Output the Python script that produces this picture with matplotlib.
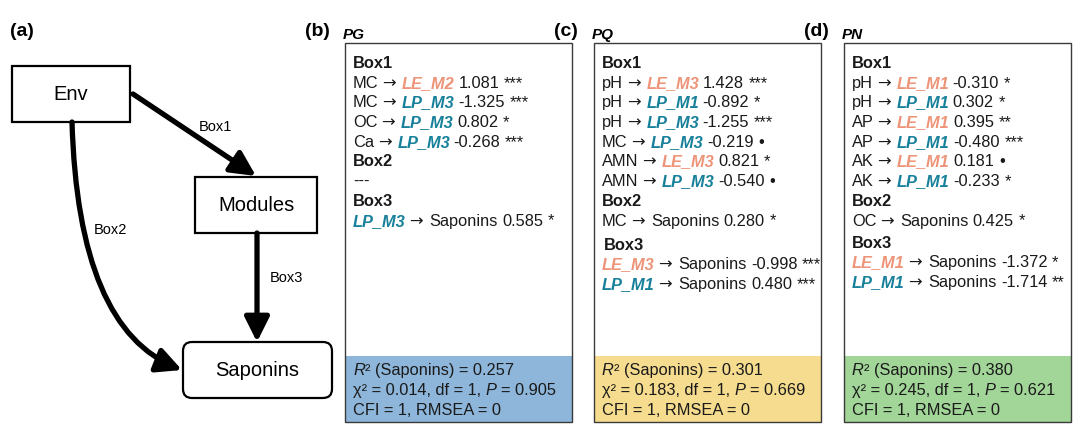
import matplotlib
matplotlib.use("Agg")
import matplotlib.pyplot as plt
from matplotlib.patches import Rectangle, FancyBboxPatch, FancyArrowPatch, ArrowStyle
from matplotlib.path import Path

plt.rcParams['font.family'] = ['Liberation Sans', 'DejaVu Sans']

# ---- data -------------------------------------------------------------
PANELS = ["PG", "PQ", "PN"]
PANEL_TAGS = ["(b)", "(c)", "(d)"]

# Box1: env factor -> module, coefficient, significance
BOX1 = [
    [("MC", "LE_M2", 1.081, "***"), ("MC", "LP_M3", -1.325, "***"),
     ("OC", "LP_M3", 0.802, "*"), ("Ca", "LP_M3", -0.268, "***")],
    [("pH", "LE_M3", 1.428, "***"), ("pH", "LP_M1", -0.892, "*"),
     ("pH", "LP_M3", -1.255, "***"), ("MC", "LP_M3", -0.219, "•"),
     ("AMN", "LE_M3", 0.821, "*"), ("AMN", "LP_M3", -0.540, "•")],
    [("pH", "LE_M1", -0.310, "*"), ("pH", "LP_M1", 0.302, "*"),
     ("AP", "LE_M1", 0.395, "**"), ("AP", "LP_M1", -0.480, "***"),
     ("AK", "LE_M1", 0.181, "•"), ("AK", "LP_M1", -0.233, "*")],
]
# Box2: env factor -> Saponins
BOX2 = [
    [],
    [("MC", 0.280, "*")],
    [("OC", 0.425, "*")],
]
# Box3: module -> Saponins
BOX3 = [
    [("LP_M3", 0.585, "*")],
    [("LE_M3", -0.998, "***"), ("LP_M1", 0.480, "***")],
    [("LE_M1", -1.372, "*"), ("LP_M1", -1.714, "**")],
]
R2 = [0.257, 0.301, 0.380]
CHI2 = [0.014, 0.183, 0.245]
PVAL = [0.905, 0.669, 0.621]
DF = [1, 1, 1]
CFI = [1, 1, 1]
RMSEA = [0, 0, 0]

LE_COLOR = "#EE9478"
LP_COLOR = "#17809A"
FILLS = ["#8DB6DA", "#F6DC8E", "#A2D598"]

# ---- figure -----------------------------------------------------------
fig = plt.figure(figsize=(10.8, 4.31), dpi=100)
ax = fig.add_axes([0, 0, 1, 1])
ax.set_xlim(0, 1080)
ax.set_ylim(431, 0)
ax.axis("off")
renderer = fig.canvas.get_renderer()

FS = 11.8
SPACE = 0.278 * FS * 100 / 72

STYLES = {
    "n": dict(),
    "b": dict(fontweight="bold"),
    "it": dict(fontstyle="italic"),
    "sup": dict(),
    "arr": dict(family="DejaVu Sans", fontsize=FS * 1.0),
    "le": dict(color=LE_COLOR, fontweight="bold", fontstyle="italic"),
    "lp": dict(color=LP_COLOR, fontweight="bold", fontstyle="italic"),
}
# gap (in spaces) inserted after a segment of the given style
GAP_AFTER = {"arr": 1.3, "le": 0.8, "lp": 0.8}


def draw_line(x, y, segs):
    prev = None
    for text, st in segs:
        if prev is not None and st != "sup":
            g = GAP_AFTER.get(prev, 1.0)
            if st == "arr":
                g = 0.8
            x += SPACE * g
        prev = st
        kw = dict(color="#1a1a1a", fontsize=FS)
        kw.update(STYLES[st])
        t = ax.text(x, y, text, ha="left", va="baseline", **kw)
        x += t.get_window_extent(renderer).width


def mod_style(m):
    return "le" if m.startswith("LE") else "lp"


# ---- panel (a): path diagram ------------------------------------------
ax.text(10, 32, "(a)", fontsize=14, fontweight="bold", va="center")
box_kw = dict(fill=False, lw=1.6, ec="black")
ax.add_patch(Rectangle((12, 67), 118, 56, **box_kw))
ax.add_patch(Rectangle((195, 178), 122, 56, **box_kw))
ax.add_patch(FancyBboxPatch((183, 343), 149, 56,
                            boxstyle="round,pad=0,rounding_size=9", **box_kw))
ax.text(71, 95, "Env", fontsize=14.5, ha="center", va="center")
ax.text(256, 206, "Modules", fontsize=14.5, ha="center", va="center")
ax.text(257.5, 371, "Saponins", fontsize=14.5, ha="center", va="center")

head = ArrowStyle("-|>", head_length=15, head_width=7.5)
arr_kw = dict(arrowstyle=head, mutation_scale=1, lw=3.8, color="black",
              shrinkA=0, shrinkB=0)
ax.add_patch(FancyArrowPatch((133, 95), (256, 177), **arr_kw))
ax.add_patch(FancyArrowPatch((257, 234), (257, 343), **arr_kw))
curve = Path([(72, 123), (78, 330), (182, 371)],
             [Path.MOVETO, Path.CURVE3, Path.CURVE3])
ax.add_patch(FancyArrowPatch(path=curve, **arr_kw))
ax.text(215, 127, "Box1", fontsize=10.5, ha="center", va="center")
ax.text(110, 230, "Box2", fontsize=10.5, ha="center", va="center")
ax.text(286, 278, "Box3", fontsize=10.5, ha="center", va="center")

# ---- panels (b)-(d) ---------------------------------------------------
LEFTS = [345, 594, 844]
WIDTH = 227
TOP, BOTTOM, FILL_TOP = 44, 423, 357
STEP = 19.7
BOX3_EXTRA = [0, 4.5, 2.5]
BOX3_INDENT = [0, 2, 0]
BASE = 5

for k, name in enumerate(PANELS):
    x0 = LEFTS[k]
    ax.text(x0 - 40, 32, PANEL_TAGS[k], fontsize=14, fontweight="bold",
            va="center")
    ax.text(x0 - 2, 35, name, fontsize=11, fontweight="bold",
            fontstyle="italic", va="center")
    ax.add_patch(Rectangle((x0, FILL_TOP), WIDTH, BOTTOM - FILL_TOP,
                           fc=FILLS[k], ec="none"))
    ax.add_patch(Rectangle((x0, TOP), WIDTH, BOTTOM - TOP, fill=False,
                           ec="#3a3a3a", lw=1.0))

    tx = x0 + 8
    row = 0

    def y_of(r, extra=0.0):
        return 63 + STEP * r + extra + BASE

    draw_line(tx, y_of(row), [("Box1", "b")])
    row += 1
    for src, mod, coef, sig in BOX1[k]:
        draw_line(tx, y_of(row), [(src, "n"), ("→", "arr"), (mod, mod_style(mod)),
                                  (f"{coef:.3f}", "n"), (sig, "n")])
        row += 1
    draw_line(tx, y_of(row), [("Box2", "b")])
    row += 1
    if BOX2[k]:
        for src, coef, sig in BOX2[k]:
            draw_line(tx, y_of(row), [(src, "n"), ("→", "arr"), ("Saponins", "n"),
                                      (f"{coef:.3f}", "n"), (sig, "n")])
            row += 1
    else:
        draw_line(tx, y_of(row), [("---", "n")])
        row += 1
    ex = BOX3_EXTRA[k]
    draw_line(tx + BOX3_INDENT[k], y_of(row, ex), [("Box3", "b")])
    row += 1
    for mod, coef, sig in BOX3[k]:
        draw_line(tx, y_of(row, ex), [(mod, mod_style(mod)), ("→", "arr"),
                                      ("Saponins", "n"), (f"{coef:.3f}", "n"),
                                      (sig, "n")])
        row += 1

    draw_line(tx, 370 + BASE, [("R", "it"), ("²", "sup"),
                               (f"(Saponins) = {R2[k]:.3f}", "n")])
    draw_line(tx, 390 + BASE, [(f"χ² = {CHI2[k]:.3f}, df = {DF[k]},", "n"),
                               ("P", "it"), (f"= {PVAL[k]:.3f}", "n")])
    draw_line(tx, 410 + BASE, [(f"CFI = {CFI[k]}, RMSEA = {RMSEA[k]}", "n")])

fig.savefig("out.png", dpi=100)
